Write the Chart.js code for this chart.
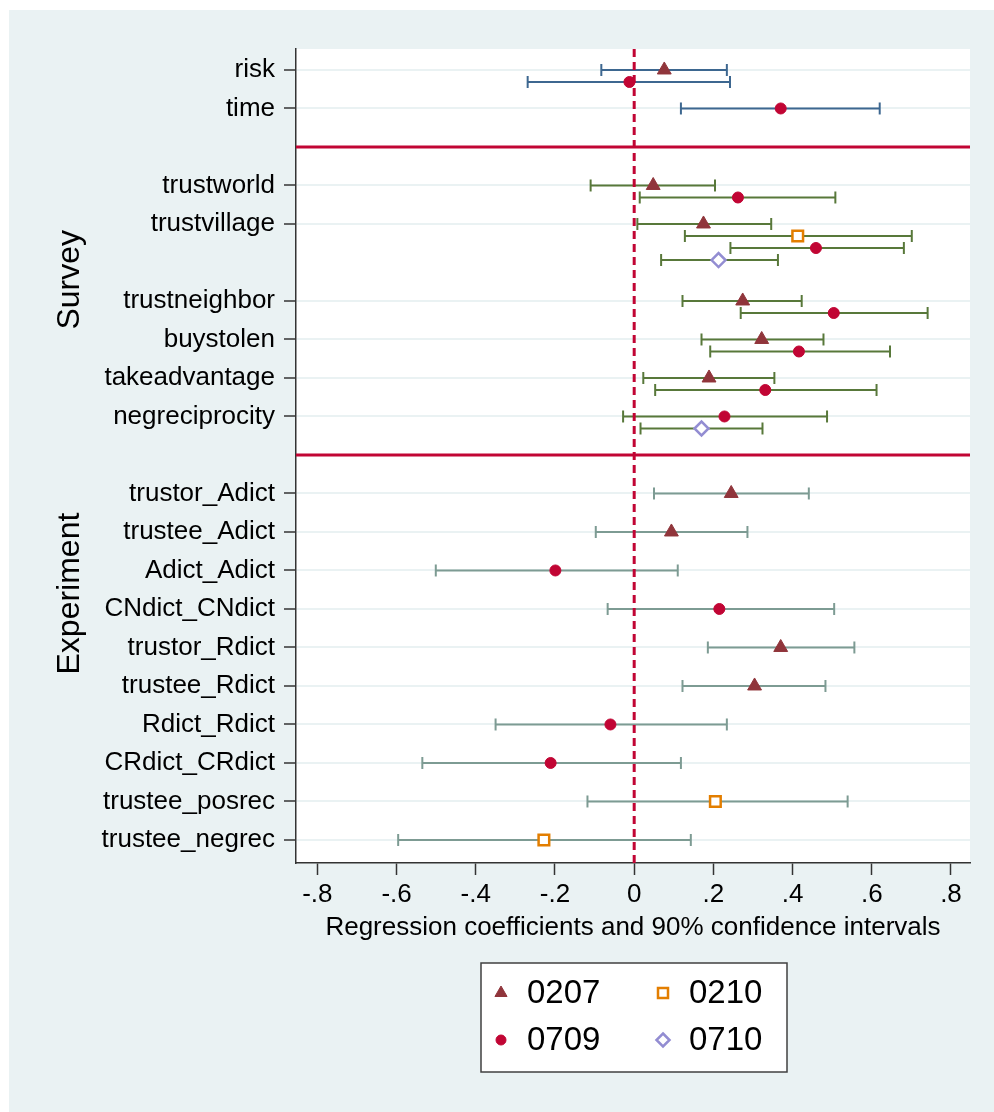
<!DOCTYPE html>
<html>
<head>
<meta charset="utf-8">
<title>Coefficient plot</title>
<script src="https://cdn.jsdelivr.net/npm/chart.js@4.4.1/dist/chart.umd.min.js"></script>
<style>
  html, body { margin: 0; padding: 0; background: #fff; }
  #wrap { width: 994px; height: 1112px; }
</style>
</head>
<body>
<div id="wrap"><canvas id="coefChart" width="994" height="1112"></canvas></div>
<script>
// --- Data ---
const categories = ['risk', 'time', 'trustworld', 'trustvillage', 'trustneighbor', 'buystolen',
  'takeadvantage', 'negreciprocity', 'trustor_Adict', 'trustee_Adict', 'Adict_Adict',
  'CNdict_CNdict', 'trustor_Rdict', 'trustee_Rdict', 'Rdict_Rdict', 'CRdict_CRdict',
  'trustee_posrec', 'trustee_negrec'];
// row of each category on the y axis (3 and 11 hold the separators, 6 is the trustvillage overflow)
const catRows = [1, 2, 4, 5, 7, 8, 9, 10, 12, 13, 14, 15, 16, 17, 18, 19, 20, 21];
const catGroup = ['pref', 'pref', 'survey', 'survey', 'survey', 'survey', 'survey', 'survey',
  'exp', 'exp', 'exp', 'exp', 'exp', 'exp', 'exp', 'exp', 'exp', 'exp'];

const seriesNames = ['0207', '0210', '0709', '0710'];
const n = null;

const coef0207 = [0.076, n, 0.048, 0.175, 0.274, 0.322, 0.189, n, 0.245, 0.094, n, n, 0.370, 0.304, n, n, n, n];
const low0207  = [-0.083, n, -0.110, 0.008, 0.122, 0.170, 0.023, n, 0.050, -0.097, n, n, 0.186, 0.122, n, n, n, n];
const high0207 = [0.234, n, 0.204, 0.346, 0.423, 0.478, 0.354, n, 0.441, 0.286, n, n, 0.556, 0.483, n, n, n, n];

const coef0210 = [n, n, n, 0.413, n, n, n, n, n, n, n, n, n, n, n, n, 0.205, -0.228];
const low0210  = [n, n, n, 0.128, n, n, n, n, n, n, n, n, n, n, n, n, -0.118, -0.596];
const high0210 = [n, n, n, 0.701, n, n, n, n, n, n, n, n, n, n, n, n, 0.539, 0.143];

const coef0709 = [-0.012, 0.370, 0.262, 0.459, 0.504, 0.416, 0.331, 0.228, n, n, -0.199, 0.215, n, n, -0.060, -0.211, n, n];
const low0709  = [-0.269, 0.118, 0.014, 0.243, 0.269, 0.192, 0.053, -0.028, n, n, -0.501, -0.067, n, n, -0.350, -0.535, n, n];
const high0709 = [0.242, 0.620, 0.508, 0.681, 0.741, 0.646, 0.612, 0.487, n, n, 0.110, 0.505, n, n, 0.234, 0.118, n, n];

const coef0710 = [n, n, n, 0.213, n, n, n, 0.170, n, n, n, n, n, n, n, n, n, n];
const low0710  = [n, n, n, 0.068, n, n, n, 0.016, n, n, n, n, n, n, n, n, n, n];
const high0710 = [n, n, n, 0.363, n, n, n, 0.324, n, n, n, n, n, n, n, n, n, n];

const xTicks = [-0.8, -0.6, -0.4, -0.2, 0, 0.2, 0.4, 0.6, 0.8];
const separatorRows = [3, 11];
const groupLabels = ['Survey', 'Experiment'];
const groupLabelRows = [6.45, 14.6];

// --- Styles ---
const FONT = '"Liberation Sans", Arial, sans-serif';
const X_MIN = -0.854, X_MAX = 0.848;
const Y_MIN = 0.455, Y_MAX = 21.598;
const STEP = 0.312; // offset between models stacked in one row
const RED = '#c10534';
const ciColors = { pref: '#3d6790', survey: '#58783a', exp: '#7d9b93' };
const markerStyles = [
  { pointStyle: 'triangle', radius: 8, fill: '#90353b', stroke: '#90353b', width: 1 },
  { pointStyle: 'rect', radius: 7.5, fill: '#ffffff', stroke: '#e37e00', width: 2.5 },
  { pointStyle: 'circle', radius: 5.5, fill: '#c10534', stroke: '#c10534', width: 1 },
  { pointStyle: 'rectRot', radius: 7, fill: '#ffffff', stroke: '#938dd2', width: 2.5 }
];

const coefs = [coef0207, coef0210, coef0709, coef0710];
const lows = [low0207, low0210, low0709, low0710];
const highs = [high0207, high0210, high0709, high0710];

// 1. Build the datasets
const ciSets = [];
const markerPoints = seriesNames.map(() => []);

categories.forEach((cat, i) => {
  let k = 0;
  seriesNames.forEach((s, j) => {
    const b = coefs[j][i];
    if (b === null) return;
    const y = catRows[i] + k * STEP;
    k++;
    const col = ciColors[catGroup[i]];
    ciSets.push({
      type: 'line',
      data: [{ x: lows[j][i], y: y }, { x: highs[j][i], y: y }],
      borderColor: col,
      borderWidth: 2,
      pointStyle: 'line',
      pointRotation: 90,
      pointRadius: 6,
      pointBorderColor: col,
      pointBorderWidth: 2,
      order: 3
    });
    markerPoints[j].push({ x: b, y: y });
  });
});

const markerSets = seriesNames.map((s, j) => ({
  type: 'scatter',
  label: s,
  data: markerPoints[j],
  pointStyle: markerStyles[j].pointStyle,
  pointRadius: markerStyles[j].radius,
  backgroundColor: markerStyles[j].fill,
  borderColor: markerStyles[j].stroke,
  borderWidth: markerStyles[j].width,
  order: 0
}));

const zeroLine = {
  type: 'line',
  data: [{ x: 0, y: Y_MIN }, { x: 0, y: Y_MAX }],
  borderColor: RED,
  borderWidth: 3,
  borderDash: [8, 5],
  pointRadius: 0,
  order: 1
};

const separators = separatorRows.map(r => ({
  type: 'line',
  data: [{ x: X_MIN, y: r }, { x: X_MAX, y: r }],
  borderColor: RED,
  borderWidth: 3,
  pointRadius: 0,
  order: 2
}));

// 2. Background, group labels and the boxed legend
const decor = {
  id: 'decor',
  beforeDraw(chart) {
    const ctx = chart.ctx, a = chart.chartArea;
    ctx.save();
    ctx.fillStyle = '#ffffff';
    ctx.fillRect(0, 0, chart.width, chart.height);
    ctx.fillStyle = '#eaf2f3';
    ctx.fillRect(9, 10, chart.width - 9, chart.height - 10);
    ctx.fillStyle = '#ffffff';
    ctx.fillRect(a.left, a.top, a.right - a.left, a.bottom - a.top);
    ctx.restore();
  },
  afterDraw(chart) {
    const ctx = chart.ctx, yScale = chart.scales.y;
    ctx.save();
    ctx.fillStyle = '#000';
    ctx.font = '32px ' + FONT;
    ctx.textAlign = 'center';
    ctx.textBaseline = 'middle';
    groupLabels.forEach((txt, i) => {
      ctx.save();
      ctx.translate(70, yScale.getPixelForValue(groupLabelRows[i]));
      ctx.rotate(-Math.PI / 2);
      ctx.fillText(txt, 0, 0);
      ctx.restore();
    });

    // legend box
    ctx.fillStyle = '#ffffff';
    ctx.fillRect(481, 963, 306, 109);
    ctx.strokeStyle = '#404040';
    ctx.lineWidth = 1.5;
    ctx.strokeRect(481, 963, 306, 109);

    const spots = [[501, 993], [663, 993], [501, 1040], [663, 1040]];
    const order = [0, 1, 2, 3]; // 0207, 0210 / 0709, 0710
    order.forEach((j, idx) => {
      const [mx, my] = spots[idx];
      drawMarker(ctx, markerStyles[j], mx, my);
      ctx.fillStyle = '#000';
      ctx.font = '33px ' + FONT;
      ctx.textAlign = 'left';
      ctx.textBaseline = 'middle';
      ctx.fillText(seriesNames[j], mx + 26, my + 1);
    });
    ctx.restore();
  }
};

function drawMarker(ctx, st, x, y) {
  ctx.save();
  ctx.fillStyle = st.fill;
  ctx.strokeStyle = st.stroke;
  ctx.lineWidth = st.width;
  ctx.beginPath();
  if (st.pointStyle === 'triangle') {
    const r = 7;
    ctx.moveTo(x, y - r);
    ctx.lineTo(x + r * 0.866, y + r * 0.5);
    ctx.lineTo(x - r * 0.866, y + r * 0.5);
    ctx.closePath();
  } else if (st.pointStyle === 'circle') {
    ctx.arc(x, y, 5, 0, Math.PI * 2);
  } else if (st.pointStyle === 'rect') {
    ctx.rect(x - 5, y - 5, 10, 10);
  } else {
    ctx.moveTo(x, y - 6.5);
    ctx.lineTo(x + 6.5, y);
    ctx.lineTo(x, y + 6.5);
    ctx.lineTo(x - 6.5, y);
    ctx.closePath();
  }
  ctx.fill();
  ctx.stroke();
  ctx.restore();
}

function fmtTick(v) {
  if (Math.abs(v) < 1e-9) return '0';
  return (v < 0 ? '-' : '') + '.' + Math.round(Math.abs(v) * 10);
}

// 3. The chart
new Chart(document.getElementById('coefChart'), {
  data: { datasets: [...markerSets, zeroLine, ...separators, ...ciSets] },
  options: {
    responsive: false,
    animation: false,
    events: [],
    layout: { padding: { left: 0, top: 49, right: 24, bottom: 1112 - 863 - 80 } },
    plugins: { legend: { display: false }, tooltip: { enabled: false } },
    scales: {
      x: {
        type: 'linear',
        min: X_MIN,
        max: X_MAX,
        afterBuildTicks: s => { s.ticks = xTicks.map(v => ({ value: v })); },
        afterFit: s => { s.height = 80; },
        ticks: { callback: v => fmtTick(v), color: '#000', font: { family: FONT, size: 26 }, padding: 4, maxRotation: 0, autoSkip: false },
        grid: { drawOnChartArea: false, tickLength: 12, tickColor: '#333', tickWidth: 1.5 },
        border: { color: '#333', width: 1.5 },
        title: {
          display: true,
          text: 'Regression coefficients and 90% confidence intervals',
          color: '#000',
          font: { family: FONT, size: 26 },
          padding: 0
        }
      },
      y: {
        type: 'linear',
        reverse: true,
        min: Y_MIN,
        max: Y_MAX,
        afterBuildTicks: s => { s.ticks = catRows.map(v => ({ value: v })); },
        afterFit: s => { s.width = 296; },
        ticks: {
          callback: v => categories[catRows.indexOf(v)],
          color: '#000',
          font: { family: FONT, size: 26 },
          padding: 9,
          autoSkip: false
        },
        grid: { color: '#eaf2f3', lineWidth: 2, tickColor: '#333', tickLength: 12, tickWidth: 1.5 },
        border: { color: '#333', width: 1.5 }
      }
    }
  },
  plugins: [decor]
});
</script>
</body>
</html>
